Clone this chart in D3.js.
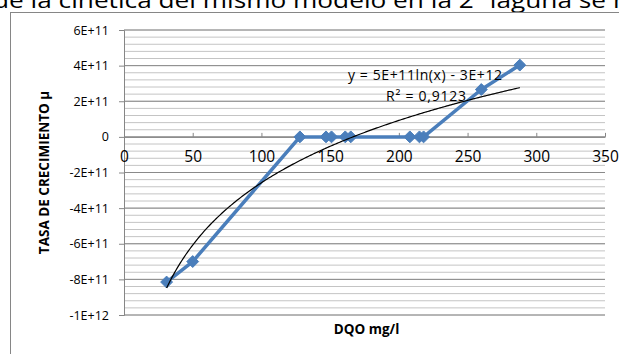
<!DOCTYPE html>
<html>
<head>
<meta charset="utf-8">
<script src="https://cdn.jsdelivr.net/npm/d3@7"></script>
<style>
  body { margin: 0; background: #fff; overflow: hidden; }
  svg text { font-family: "Open Sans", "Liberation Sans", sans-serif; fill: #000; }
</style>
</head>
<body>
<svg id="chart"></svg>
<script>
const width = 619;
const height = 354;
const svg = d3.select("svg#chart");
svg.attr("width", width).attr("height", height);

// plot margins (inner plot area)
const margin = { top: 30, bottom: 39, left: 124, right: 14 };

// data
const dqo = [31, 50, 128, 147, 151, 161, 165, 208, 215, 218, 260, 288];
const mu = [-8.15e11, -7.0e11, 0, 0, 0, 0, 0, 0, 0, 0, 2.66e11, 4.03e11];
const xTicks = [0, 50, 100, 150, 200, 250, 300, 350];
const yTicks = [-1e12, -8e11, -6e11, -4e11, -2e11, 0, 2e11, 4e11, 6e11];
const eqLabel = "y = 5E+11ln(x) - 3E+12";
const r2Label = "R² = 0,9123";

const x = d3.scaleLinear().domain([0, 350]).range([margin.left, width - margin.right]);
const y = d3.scaleLinear().domain([-1e12, 6e11]).range([height - margin.bottom, margin.top]);

// cut-off line of text above the chart
svg.append("text")
  .attr("x", -7).attr("y", 8)
  .style("font-size", "21px")
  .attr("textLength", 636)
  .attr("lengthAdjust", "spacingAndGlyphs")
  .text("de la cinética del mismo modelo en la 2ª laguna se n");

// chart frame (runs off the right and bottom edges)
svg.append("rect")
  .attr("x", 10.5).attr("y", 12.5)
  .attr("width", 640).attr("height", 400)
  .attr("fill", "#fff")
  .attr("stroke", "#868686");

// gridlines
const minor = d3.range(-1e12, 6e11 + 1, 4e10);
svg.append("g").attr("id", "minorGrid")
  .selectAll("line").data(minor).enter().append("line")
  .attr("x1", x(0)).attr("x2", x(350))
  .attr("y1", d => y(d)).attr("y2", d => y(d))
  .attr("stroke", "#c4c4c4").attr("stroke-width", 1);
svg.append("g").attr("id", "majorGrid")
  .selectAll("line").data(yTicks).enter().append("line")
  .attr("x1", x(0)).attr("x2", x(350))
  .attr("y1", d => y(d)).attr("y2", d => y(d))
  .attr("stroke", "#8a8a8a").attr("stroke-width", 1);

// y axis, Excel style labels with plain hyphen
const fmtY = v => v === 0 ? "0" : d3.format(".0e")(v).toUpperCase().replace("−", "-");
const yAxis = svg.append("g")
  .attr("id", "yAxis")
  .attr("transform", "translate(" + x(0) + ",0)")
  .call(d3.axisLeft(y).tickValues(yTicks).tickFormat(fmtY).tickSize(5).tickPadding(10));
yAxis.select(".domain").attr("stroke", "#868686");
yAxis.selectAll(".tick line").attr("stroke", "#868686");
yAxis.selectAll("text").style("font-size", "12.5px").attr("fill", "#000");

// x axis sits on y = 0, ticks point up
const xAxis = svg.append("g")
  .attr("id", "xAxis")
  .attr("transform", "translate(0," + y(0) + ")")
  .call(d3.axisBottom(x).tickValues(xTicks).tickSize(-4).tickSizeOuter(0).tickPadding(8));
xAxis.select(".domain").attr("stroke", "#868686");
xAxis.selectAll(".tick line").attr("stroke", "#868686");
xAxis.selectAll("text").style("font-size", "15.5px").attr("fill", "#000").attr("dy", "1.1em");

// data line and diamond markers
const pts = dqo.map((d, i) => ({ x: d, y: mu[i] }));
svg.append("path")
  .datum(pts)
  .attr("fill", "none")
  .attr("stroke", "#4a7ebb")
  .attr("stroke-width", 3.5)
  .attr("stroke-linejoin", "round")
  .attr("d", d3.line().x(d => x(d.x)).y(d => y(d.y)));

svg.append("g").attr("id", "markers")
  .selectAll("path").data(pts).enter().append("path")
  .attr("transform", d => "translate(" + x(d.x) + "," + y(d.y) + ")")
  .attr("d", d3.symbol(d3.symbolDiamond2, 90))
  .attr("fill", "#4a7ebb")
  .attr("stroke", "#4a7ebb").attr("stroke-width", 1);

// logarithmic trendline, least squares fit of mu on ln(dqo)
const lx = dqo.map(Math.log);
const mx = d3.mean(lx), my = d3.mean(mu);
const b = d3.sum(lx, (v, i) => (v - mx) * (mu[i] - my)) / d3.sum(lx, v => (v - mx) * (v - mx));
const a = my - b * mx;
const xs = d3.range(d3.min(dqo), d3.max(dqo) + 0.01, 1);
svg.append("path")
  .datum(xs)
  .attr("fill", "none")
  .attr("stroke", "#000")
  .attr("stroke-width", 1.2)
  .attr("d", d3.line().x(d => x(d)).y(d => y(a + b * Math.log(d))));

// trendline labels
svg.append("text").attr("x", 425).attr("y", 80)
  .attr("text-anchor", "middle").style("font-size", "14px")
  .attr("textLength", 154).text(eqLabel);
svg.append("text").attr("x", 426).attr("y", 101)
  .attr("text-anchor", "middle").style("font-size", "14px")
  .attr("textLength", 80).text(r2Label);

// axis titles
svg.append("text")
  .attr("transform", "translate(49," + ((y(6e11) + y(-1e12)) / 2) + ") rotate(-90)")
  .attr("text-anchor", "middle")
  .style("font-size", "13.5px").style("font-weight", "bold")
  .text("TASA DE CRECIMIENTO µ");
svg.append("text")
  .attr("x", (x(0) + x(350)) / 2 + 2).attr("y", 334)
  .attr("text-anchor", "middle")
  .style("font-size", "13.5px").style("font-weight", "bold")
  .text("DQO mg/l");
</script>
</body>
</html>
